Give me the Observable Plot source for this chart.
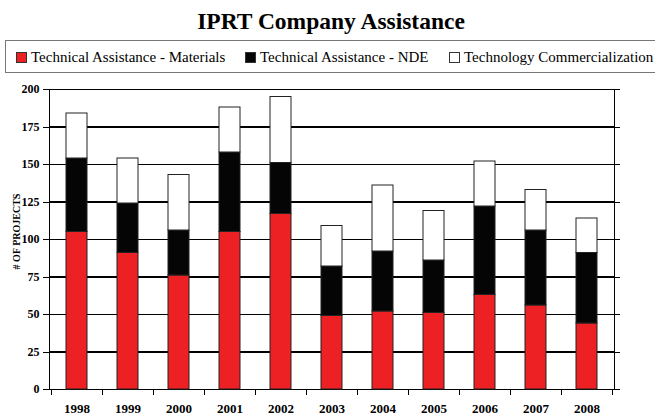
<!DOCTYPE html>
<html>
<head>
<meta charset="utf-8">
<script src="https://cdn.jsdelivr.net/npm/d3@7"></script>
<script src="https://cdn.jsdelivr.net/npm/@observablehq/plot@0.6"></script>
<style>
  html, body { margin: 0; padding: 0; background: #fff; width: 655px; height: 417px; overflow: hidden; }
  body { position: relative; font-family: "Liberation Serif", "Times New Roman", serif; }
  #title { position: absolute; left: 0; top: 6px; width: 662px; text-align: center; font-weight: bold; font-size: 23.5px; line-height: 30px; color: #000; }
  #legend { position: absolute; left: 5px; top: 40px; width: 700px; height: 33px; border: 1px solid #777; box-sizing: border-box; font-size: 15px; white-space: nowrap; }
  .item { position: absolute; top: 0; line-height: 32px; }
  .sw { display: inline-block; width: 9px; height: 9px; border: 1px solid #333; vertical-align: -1px; margin-right: 4px; }
  #chart { position: absolute; left: 0; top: 76px; }
  #chart svg text { font-family: "Liberation Serif", "Times New Roman", serif; }
</style>
</head>
<body>
<div id="title">IPRT Company Assistance</div>
<div id="legend"></div>
<div id="chart"></div>
<script>
const years = ["1998","1999","2000","2001","2002","2003","2004","2005","2006","2007","2008"];
const seriesNames = ["Technical Assistance - Materials", "Technical Assistance - NDE", "Technology Commercialization"];
const seriesColors = ["#ED2024", "#050505", "#FFFFFF"];
const materials = [105, 91, 76, 105, 117, 49, 52, 51, 63, 56, 44];
const nde       = [49, 33, 30, 53, 34, 33, 40, 35, 59, 50, 47];
const commerce  = [30, 30, 37, 30, 44, 27, 44, 33, 30, 27, 23];
const yTicks = [0, 25, 50, 75, 100, 125, 150, 175, 200];
const yTitle = "# OF PROJECTS";

// legend
const legendLeft = [10, 239, 443];
const legend = document.getElementById("legend");
seriesNames.forEach((n, i) => {
  const it = document.createElement("div");
  it.className = "item";
  it.style.left = legendLeft[i] + "px";
  const sw = document.createElement("span");
  sw.className = "sw";
  sw.style.background = seriesColors[i];
  it.appendChild(sw);
  it.appendChild(document.createTextNode(n));
  legend.appendChild(it);
});

const rows = [];
const vals = [materials, nde, commerce];
years.forEach((y, i) => {
  seriesNames.forEach((s, k) => rows.push({year: y, series: s, value: vals[k][i]}));
});

const W = 655, H = 341, mL = 49, mR = 41, mT = 13, mB = 28;
const step = (W - mL - mR) / years.length;
const serif = "Liberation Serif, Times New Roman, serif";

const plot = Plot.plot({
  width: W, height: H,
  marginLeft: mL, marginRight: mR, marginTop: mT, marginBottom: mB,
  style: {fontFamily: serif, background: "white", color: "black"},
  x: {domain: years, paddingInner: 0.59, paddingOuter: 0.295, label: null},
  y: {domain: [0, 200], label: null},
  color: {domain: seriesNames, range: seriesColors},
  marks: [
    Plot.ruleY(yTicks, {stroke: "black", strokeWidth: 1.2, shapeRendering: "crispEdges"}),
    Plot.frame({stroke: "black", strokeWidth: 1.2, shapeRendering: "crispEdges"}),
    Plot.barY(rows, Plot.stackY({x: "year", y: "value", fill: "series", order: seriesNames, stroke: "#222", strokeWidth: 1, inset: 0})),
    Plot.axisY({anchor: "left", ticks: yTicks, tickSize: 6, tickPadding: 4, fontWeight: "bold", fontSize: 12, tickFormat: d => d, label: null, shapeRendering: "crispEdges"}),
    Plot.axisY({anchor: "right", ticks: yTicks, tickSize: 5, tickFormat: () => "", label: null, shapeRendering: "crispEdges"}),
    Plot.axisX({anchor: "bottom", tickSize: 6, dx: -step / 2, tickFormat: () => "", label: null, shapeRendering: "crispEdges"}),
    Plot.axisX({anchor: "bottom", ticks: ["2008"], tickSize: 6, dx: step / 2, tickFormat: () => "", label: null, shapeRendering: "crispEdges"}),
    Plot.axisX({anchor: "bottom", tickSize: 0, tickPadding: 14, fontWeight: "bold", fontSize: 13, label: null}),
    Plot.text([yTitle], {text: d => d, frameAnchor: "left", rotate: -90, dx: -33, dy: -8, fontWeight: "bold", fontSize: 10, fill: "black", textAnchor: "middle"})
  ]
});
document.getElementById("chart").appendChild(plot);
</script>
</body>
</html>
